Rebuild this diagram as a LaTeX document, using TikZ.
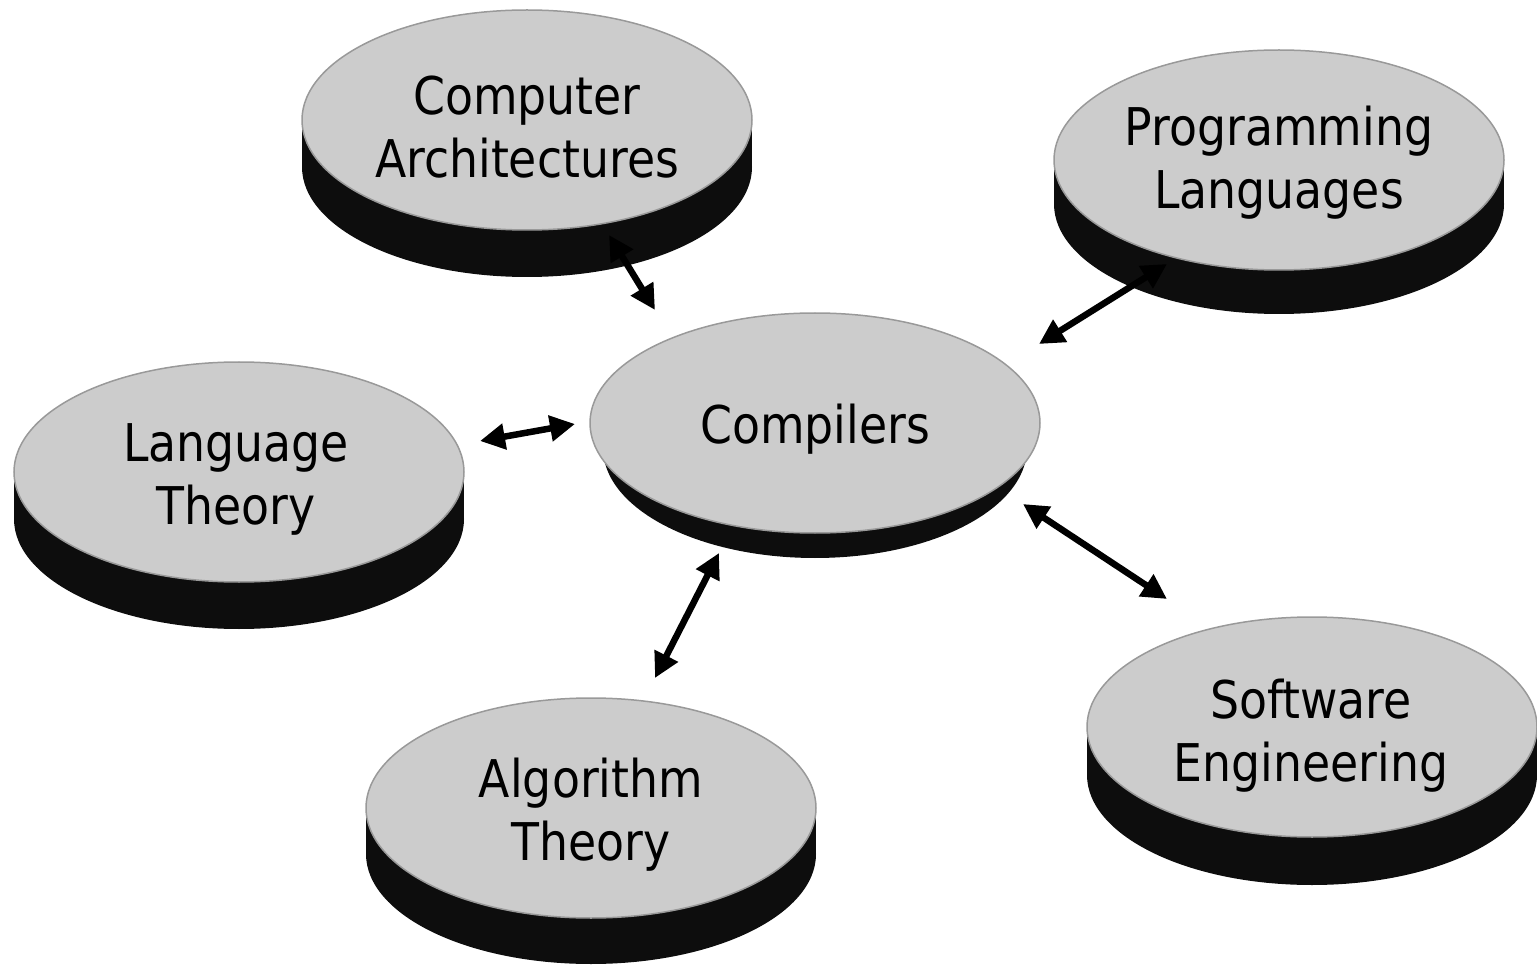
\documentclass[tikz,border=0pt]{standalone}
\usepackage{fontspec}
\setmainfont{DejaVu Sans}[FakeStretch=0.88]
\usetikzlibrary{arrows.meta,shapes.geometric}
\definecolor{topgray}{HTML}{CCCCCC}
\definecolor{rimgray}{HTML}{999999}
\definecolor{sideblack}{HTML}{0D0D0D}
\begin{document}
\begin{tikzpicture}[x=1pt,y=-1pt,
  disktop/.style={ellipse, fill=topgray, draw=rimgray, line width=1.5pt,
    minimum width=450pt, minimum height=220pt, inner sep=0pt},
  disktext/.style={inner sep=0pt, align=center,
    font=\fontsize{52}{63}\selectfont},
  diskbase/.style={ellipse, fill=sideblack, inner sep=0pt,
    minimum width=450pt, minimum height=220pt},
  link/.style={line width=6.5pt,
    {Triangle[length=25pt,width=25pt]}-{Triangle[length=25pt,width=25pt]}}]
\useasboundingbox (0,0) rectangle (1537,965);

% Computer Architectures
\fill[sideblack] (302,120) rectangle (752,167);
\node[diskbase] (ca-b) at (527,167) {};
\node[disktop] (ca) at (527,120) {};
\node[disktext] (ca-t) at (527,127) {Computer\\Architectures};

% Programming Languages
\fill[sideblack] (1054,160) rectangle (1504,204);
\node[diskbase] (pl-b) at (1279,204) {};
\node[disktop] (pl) at (1279,160) {};
\node[disktext] (pl-t) at (1279,163) {Programming\\Languages};

% Language Theory
\fill[sideblack] (14,472) rectangle (464,519);
\node[diskbase] (lt-b) at (239,519) {};
\node[disktop] (lt) at (239,472) {};
\node[disktext] (lt-t) at (236,479) {Language\\Theory};

% Algorithm Theory
\fill[sideblack] (366,808) rectangle (816,854);
\node[diskbase] (at-b) at (591,854) {};
\node[disktop] (at) at (591,808) {};
\node[disktext] (at-t) at (591,815) {Algorithm\\Theory};

% Software Engineering
\fill[sideblack] (1087,727) rectangle (1537,775);
\node[diskbase] (se-b) at (1312,775) {};
\node[disktop] (se) at (1312,727) {};
\node[disktext] (se-t) at (1311,736) {Software\\Engineering};

% Compilers
\node[diskbase, minimum width=424pt] (c-b) at (815,448) {};
\node[disktop] (c) at (815,423) {};
\node[disktext] (c-t) at (815,429) {Compilers};

% connector ends
\coordinate (ca-e) at (609,235);
\coordinate (c-ca) at (655,310);
\coordinate (pl-e) at (1167,264);
\coordinate (c-pl) at (1039,344);
\coordinate (lt-e) at (480,441);
\coordinate (c-lt) at (575,424);
\coordinate (at-e) at (655,678);
\coordinate (c-at) at (719,553);
\coordinate (se-e) at (1167,599);
\coordinate (c-se) at (1023,504);

\draw[link] (ca-e) -- (c-ca);
\draw[link] (pl-e) -- (c-pl);
\draw[link] (lt-e) -- (c-lt);
\draw[link] (at-e) -- (c-at);
\draw[link] (se-e) -- (c-se);
\end{tikzpicture}
\end{document}
